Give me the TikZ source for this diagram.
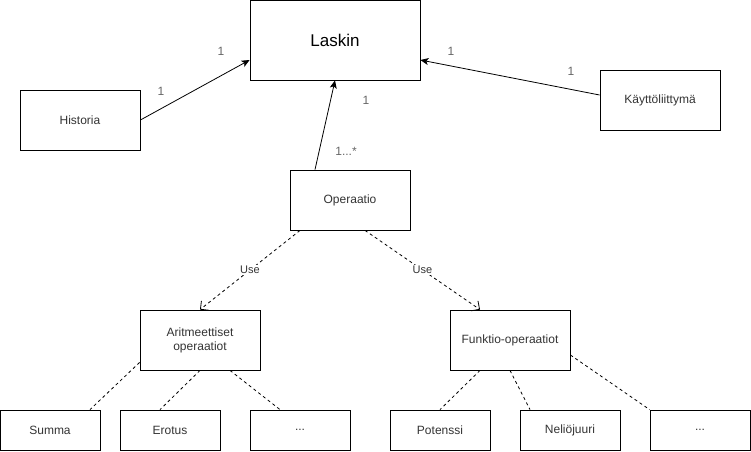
\documentclass[tikz,border=0pt]{standalone}
\usepackage{fontspec}
\setmainfont{Liberation Sans}
\usetikzlibrary{arrows.meta}
\begin{document}
\begin{tikzpicture}[x=1pt,y=-1pt,
    luokka/.style={draw, thick, rectangle, text=black!80, font=\fontsize{12}{14}\selectfont,
      minimum width=120pt, minimum height=60pt, inner sep=0pt, align=center},
    pieni/.style={luokka, minimum width=100pt, minimum height=40pt},
    kerto/.style={text=black!60, font=\fontsize{12}{14}\selectfont, inner sep=1pt},
    assoc/.style={thick, -{Stealth[length=8pt,width=7pt,inset=2pt]}},
    kaytto/.style={thick, dashed, -{Straight Barb[length=6pt,width=12pt]}},
    osa/.style={thick, dashed}]
  \useasboundingbox (0,0) rectangle (751,451);
  % luokat
  \node[luokka, minimum width=170pt, minimum height=80pt, text=black, font=\fontsize{17}{20}\selectfont] (laskin) at (335,40) {Laskin};
  \node[luokka] (historia) at (80,120) {Historia};
  \node[luokka] (kl) at (660,100) {Käyttöliittymä};
  \node[luokka] (operaatio) at (350,200) {Operaatio};
  \node[luokka] (arit) at (200,340) {Aritmeettiset\\operaatiot};
  \node[luokka] (funk) at (510,340) {Funktio-operaatiot};
  \node[pieni] (summa) at (50,430) {Summa};
  \node[pieni] (erotus) at (170,430) {Erotus};
  \node[pieni] (muut1) at (300,430) {...};
  \node[pieni] (potenssi) at (440,430) {Potenssi};
  \node[pieni] (neliojuuri) at (570,430) {Neliöjuuri};
  \node[pieni] (muut2) at (700,430) {...};
  % assosiaatiot
  \draw[assoc] (historia.east) -- ([yshift=-20pt]laskin.west);
  \draw[assoc] ([yshift=5pt]kl.west) -- ([yshift=-20pt]laskin.east);
  \draw[assoc] ([xshift=-35pt]operaatio.north) -- (laskin.south);
  \node[kerto] (k1) at (161,91) {1};
  \node[kerto] (k2) at (221,51) {1};
  \node[kerto] (k3) at (451,51) {1};
  \node[kerto] (k4) at (571,71) {1};
  \node[kerto] (k5) at (366,100) {1};
  \node[kerto] (k6) at (346,151) {1...*};
  % use
  \draw[kaytto] ([xshift=-50pt]operaatio.south) -- node[fill=white, text=black!80, font=\fontsize{11}{13}\selectfont, inner sep=1pt] (use1) {Use} (arit.north);
  \draw[kaytto] ([xshift=15pt]operaatio.south) -- node[fill=white, text=black!80, font=\fontsize{11}{13}\selectfont, inner sep=1pt] (use2) {Use} ([xshift=-30pt]funk.north);
  % aliluokat
  \draw[osa] ([yshift=8pt]arit.south west) -- ([xshift=40pt]summa.north);
  \draw[osa] (arit.south) -- ([xshift=-10pt]erotus.north);
  \draw[osa] ([xshift=30pt]arit.south) -- ([xshift=-20pt]muut1.north);
  \draw[osa] ([xshift=-30pt]funk.south) -- (potenssi.north);
  \draw[osa] (funk.south) -- ([xshift=-40pt]neliojuuri.north);
  \draw[osa] ([yshift=-15pt]funk.east) -- (muut2.north west);
\end{tikzpicture}
\end{document}
